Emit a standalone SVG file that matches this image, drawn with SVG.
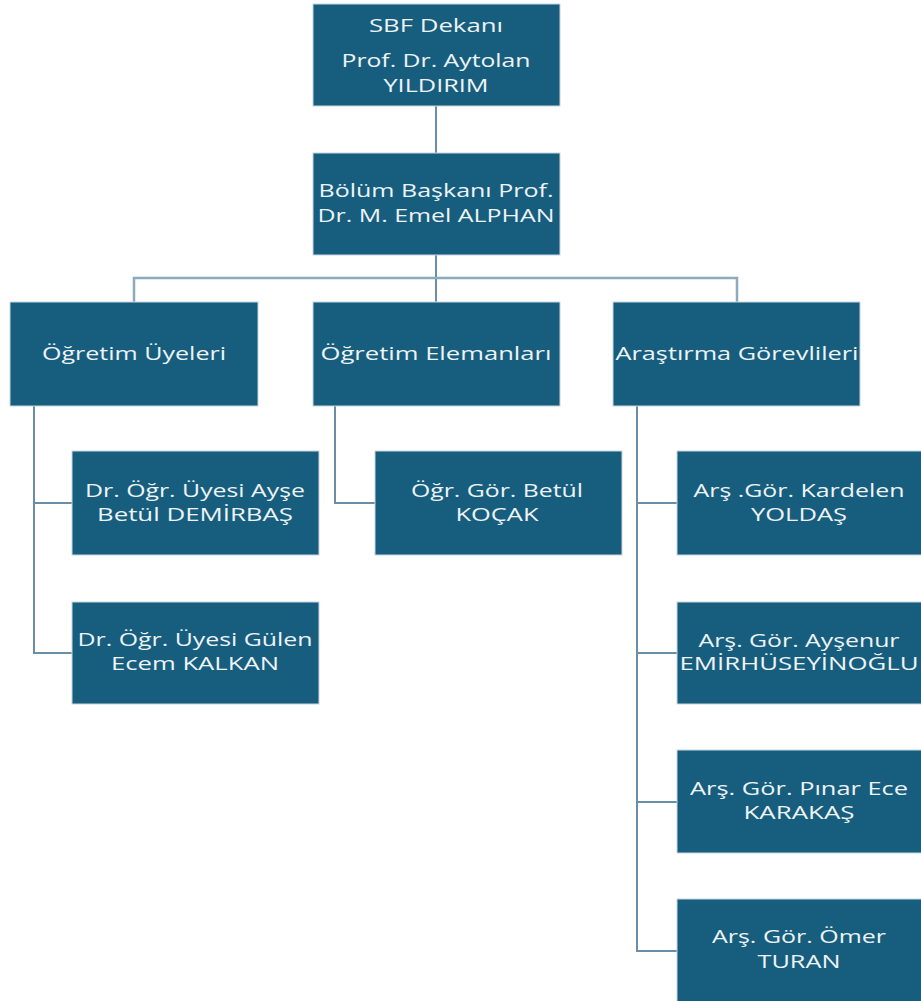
<svg xmlns="http://www.w3.org/2000/svg" width="921" height="1001" viewBox="0 0 921 1001">
<style>
.box{fill:#175e7e;stroke:#c8d6df;stroke-width:1}
.t{fill:#eef3f6;font-family:"Open Sans","Liberation Sans",sans-serif;font-size:18px;font-weight:500;text-anchor:middle}
.c{fill:none;stroke:#6a8ea5;stroke-width:2}
.h{fill:none;stroke:#8aabbf;stroke-width:2.5}
</style>
<rect width="921" height="1001" fill="#ffffff"/>
<g id="connectors">
<path class="c" d="M436 106V153"/>
<path class="c" d="M436 255V302"/>
<path class="h" d="M134 302V278H737V302"/>
<path class="c" d="M34 406V653H72M34 503H72"/>
<path class="c" d="M335 406V503H375"/>
<path class="c" d="M637 406V951H677M637 503H677M637 653H677M637 802H677"/>
</g>
<g id="dean">
<rect class="box" x="313" y="4" width="247" height="102"/>
<text class="t" x="436" y="32" textLength="134" lengthAdjust="spacingAndGlyphs">SBF Dekanı</text>
<text class="t" x="436" y="67" textLength="189" lengthAdjust="spacingAndGlyphs">Prof. Dr. Aytolan</text>
<text class="t" x="436" y="92" textLength="105" lengthAdjust="spacingAndGlyphs">YILDIRIM</text>
</g>
<g id="head">
<rect class="box" x="313" y="153" width="247" height="102"/>
<text class="t" x="436" y="197" textLength="235" lengthAdjust="spacingAndGlyphs">Bölüm Başkanı Prof.</text>
<text class="t" x="436" y="222" textLength="237" lengthAdjust="spacingAndGlyphs">Dr. M. Emel ALPHAN</text>
</g>
<g id="ogretim-uyeleri">
<rect class="box" x="10" y="302" width="248" height="104"/>
<text class="t" x="134" y="360" textLength="184" lengthAdjust="spacingAndGlyphs">Öğretim Üyeleri</text>
</g>
<g id="ogretim-elemanlari">
<rect class="box" x="313" y="302" width="247" height="104"/>
<text class="t" x="436" y="360" textLength="231" lengthAdjust="spacingAndGlyphs">Öğretim Elemanları</text>
</g>
<g id="arastirma-gorevlileri">
<rect class="box" x="613" y="302" width="247" height="104"/>
<text class="t" x="737" y="360" textLength="243" lengthAdjust="spacingAndGlyphs">Araştırma Görevlileri</text>
</g>
<g id="demirbas">
<rect class="box" x="72" y="451" width="247" height="104"/>
<text class="t" x="195" y="497" textLength="220" lengthAdjust="spacingAndGlyphs">Dr. Öğr. Üyesi Ayşe</text>
<text class="t" x="195" y="521" textLength="196" lengthAdjust="spacingAndGlyphs">Betül DEMİRBAŞ</text>
</g>
<g id="kalkan">
<rect class="box" x="72" y="602" width="247" height="102"/>
<text class="t" x="195" y="646" textLength="235" lengthAdjust="spacingAndGlyphs">Dr. Öğr. Üyesi Gülen</text>
<text class="t" x="195" y="670" textLength="168" lengthAdjust="spacingAndGlyphs">Ecem KALKAN</text>
</g>
<g id="kocak">
<rect class="box" x="375" y="451" width="247" height="104"/>
<text class="t" x="497" y="497" textLength="172" lengthAdjust="spacingAndGlyphs">Öğr. Gör. Betül</text>
<text class="t" x="497" y="521" textLength="83" lengthAdjust="spacingAndGlyphs">KOÇAK</text>
</g>
<g id="yoldas">
<rect class="box" x="677" y="451" width="247" height="104"/>
<text class="t" x="799" y="497" textLength="211" lengthAdjust="spacingAndGlyphs">Arş .Gör. Kardelen</text>
<text class="t" x="799" y="521" textLength="96" lengthAdjust="spacingAndGlyphs">YOLDAŞ</text>
</g>
<g id="emirhuseyinoglu">
<rect class="box" x="677" y="602" width="247" height="102"/>
<text class="t" x="799" y="647" textLength="201" lengthAdjust="spacingAndGlyphs">Arş. Gör. Ayşenur</text>
<text class="t" x="799" y="670" textLength="239" lengthAdjust="spacingAndGlyphs">EMİRHÜSEYİNOĞLU</text>
</g>
<g id="karakas">
<rect class="box" x="677" y="750" width="247" height="103"/>
<text class="t" x="799" y="795" textLength="218" lengthAdjust="spacingAndGlyphs">Arş. Gör. Pınar Ece</text>
<text class="t" x="799" y="819" textLength="111" lengthAdjust="spacingAndGlyphs">KARAKAŞ</text>
</g>
<g id="turan">
<rect class="box" x="677" y="899" width="247" height="104"/>
<text class="t" x="799" y="943" textLength="174" lengthAdjust="spacingAndGlyphs">Arş. Gör. Ömer</text>
<text class="t" x="799" y="968" textLength="83" lengthAdjust="spacingAndGlyphs">TURAN</text>
</g>
</svg>
